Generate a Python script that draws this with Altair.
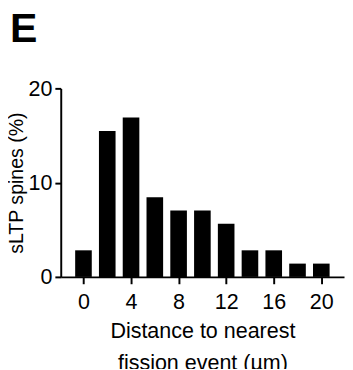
import altair as alt
import pandas as pd

distance = [0, 2, 4, 6, 8, 10, 12, 14, 16, 18, 20]
sltp_pct = [2.82, 15.49, 16.90, 8.45, 7.04, 7.04, 5.63, 2.82, 2.82, 1.41, 1.41]
x_ticks = [0, 4, 8, 12, 16, 20]
y_ticks = [0, 10, 20]
panel_label = ["E"]

df = pd.DataFrame({"distance": distance, "pct": sltp_pct})
lab = pd.DataFrame({"label": panel_label})

FONT = "Liberation Sans"

bars = (
    alt.Chart(df)
    .mark_bar(size=17, color="black")
    .encode(
        x=alt.X(
            "distance:Q",
            scale=alt.Scale(domain=[-1.5, 21.5], nice=False, zero=False),
            axis=alt.Axis(
                values=x_ticks,
                title=["Distance to nearest", "fission event (µm)"],
                grid=False,
                domainColor="black",
                domainWidth=2,
                tickColor="black",
                tickWidth=2,
                tickSize=7,
                labelFont=FONT,
                labelFontSize=22,
                labelColor="black",
                labelPadding=8,
                titleFont=FONT,
                titleFontSize=22,
                titleFontWeight="normal",
                titleColor="black",
                titleLineHeight=33,
                titlePadding=9,
            ),
        ),
        y=alt.Y(
            "pct:Q",
            scale=alt.Scale(domain=[0, 20], nice=False),
            axis=alt.Axis(
                values=y_ticks,
                title="sLTP spines (%)",
                grid=False,
                domainColor="black",
                domainWidth=2,
                tickColor="black",
                tickWidth=2,
                tickSize=6,
                labelFont=FONT,
                labelFontSize=22,
                labelColor="black",
                labelPadding=3,
                titleFont=FONT,
                titleFontSize=20,
                titleFontWeight="normal",
                titleColor="black",
                titleX=-39,
                titleY=96.5,
                titleBaseline="alphabetic",
            ),
        ),
    )
)

letter = (
    alt.Chart(lab)
    .mark_text(
        font=FONT,
        fontSize=42,
        fontWeight="bold",
        color="black",
        align="left",
        baseline="alphabetic",
    )
    .encode(text="label:N", x=alt.value(-52), y=alt.value(-47))
)

chart = (
    alt.layer(bars, letter)
    .properties(
        width=290,
        height=193,
        autosize=alt.AutoSizeParams(type="none"),
        padding={"left": 54, "top": 78, "right": 1, "bottom": 90},
    )
    .configure_view(stroke=None)
)

chart.save("out.html", embed_options={"renderer": "svg", "actions": False})
